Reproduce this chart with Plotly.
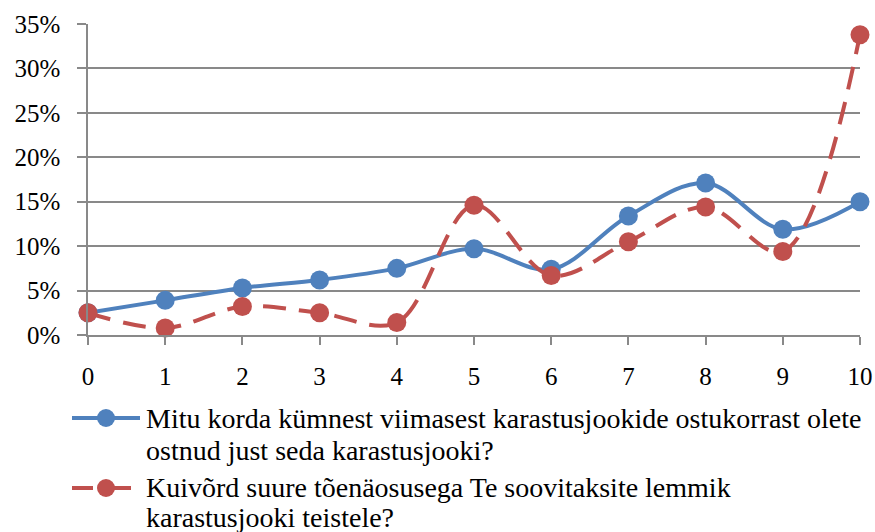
import plotly.graph_objects as go

# data
scores = [0, 1, 2, 3, 4, 5, 6, 7, 8, 9, 10]
bought_share = [0.025, 0.039, 0.053, 0.062, 0.075, 0.097, 0.074, 0.134, 0.171, 0.119, 0.150]
recommend_share = [0.025, 0.008, 0.032, 0.025, 0.014, 0.146, 0.067, 0.105, 0.144, 0.094, 0.338]
y_ticks = [0, 0.05, 0.10, 0.15, 0.20, 0.25, 0.30, 0.35]

# legend text, one list entry per printed line
legend_lines = [
    ["Mitu korda kümnest viimasest karastusjookide ostukorrast olete",
     "ostnud just seda karastusjooki?"],
    ["Kuivõrd suure tõenäosusega Te soovitaksite lemmik",
     "karastusjooki teistele?"],
]

BLUE = "#4F81BD"
RED = "#C0504D"
GRID = "#898989"
FONT = "Liberation Serif"

# figure geometry in pixels
L, R, T, B = 88, 15, 24, 197
W, H = 875, 532
PW, PH = W - L - R, H - T - B


def px_x(x):
    return (x - L) / PW


def px_y(y):
    return (H - B - y) / PH


fig = go.Figure()

fig.add_trace(go.Scatter(
    x=scores, y=bought_share,
    mode="lines+markers",
    line=dict(color=BLUE, width=4, shape="spline", smoothing=1),
    marker=dict(size=19, color=BLUE),
    cliponaxis=False, showlegend=False,
))

fig.add_trace(go.Scatter(
    x=scores, y=recommend_share,
    mode="lines+markers",
    line=dict(color=RED, width=4, shape="spline", smoothing=1, dash="23px,13px"),
    marker=dict(size=19, color=RED),
    cliponaxis=False, showlegend=False,
))

# hand-drawn legend so the line spacing follows the reference
legend_rows = [(BLUE, 418, [(72, 140)], [428, 460]),
               (RED, 488, [(72, 93), (112, 131)], [497, 527])]
for (color, sym_y, segs, baselines), lines in zip(legend_rows, legend_lines):
    for x0, x1 in segs:
        fig.add_shape(type="line", xref="paper", yref="paper",
                      x0=px_x(x0), x1=px_x(x1), y0=px_y(sym_y), y1=px_y(sym_y),
                      line=dict(color=color, width=4))
    fig.add_shape(type="circle", xref="paper", yref="paper",
                  xsizemode="pixel", ysizemode="pixel",
                  xanchor=px_x(106), yanchor=px_y(sym_y),
                  x0=-9, x1=9, y0=-9, y1=9,
                  fillcolor=color, line=dict(color=color, width=0))
    for text, base in zip(lines, baselines):
        fig.add_annotation(xref="paper", yref="paper",
                           x=px_x(144), y=px_y(base - 10),
                           xanchor="left", yanchor="middle",
                           text=text, showarrow=False,
                           font=dict(family=FONT, size=28, color="black"))

fig.update_layout(
    width=W, height=H,
    margin=dict(l=L, r=R, t=T, b=B, autoexpand=False),
    paper_bgcolor="white",
    plot_bgcolor="white",
    font=dict(family=FONT, size=25, color="black"),
    showlegend=False,
)

fig.update_xaxes(
    range=[0, 10],
    tickmode="array", tickvals=scores,
    ticks="outside", ticklen=8, tickcolor=GRID, tickwidth=1.5,
    ticklabelstandoff=10,
    showline=True, linecolor=GRID, linewidth=1.5,
    showgrid=False, zeroline=False, automargin=False,
    tickfont=dict(family=FONT, size=25),
)

fig.update_yaxes(
    range=[0, 0.35],
    tickvals=y_ticks,
    tickformat=".0%",
    ticks="outside", ticklen=9, tickcolor=GRID, tickwidth=1.5,
    ticklabelstandoff=12,
    showline=True, linecolor=GRID, linewidth=1.5,
    showgrid=True, gridcolor=GRID, gridwidth=1.5,
    zeroline=False, automargin=False,
    tickfont=dict(family=FONT, size=25),
)

# drop the default page margin so the figure sits at the window's corner
fig.write_html("out.html", config={"displayModeBar": False},
               post_script="document.body.style.margin='0';")
